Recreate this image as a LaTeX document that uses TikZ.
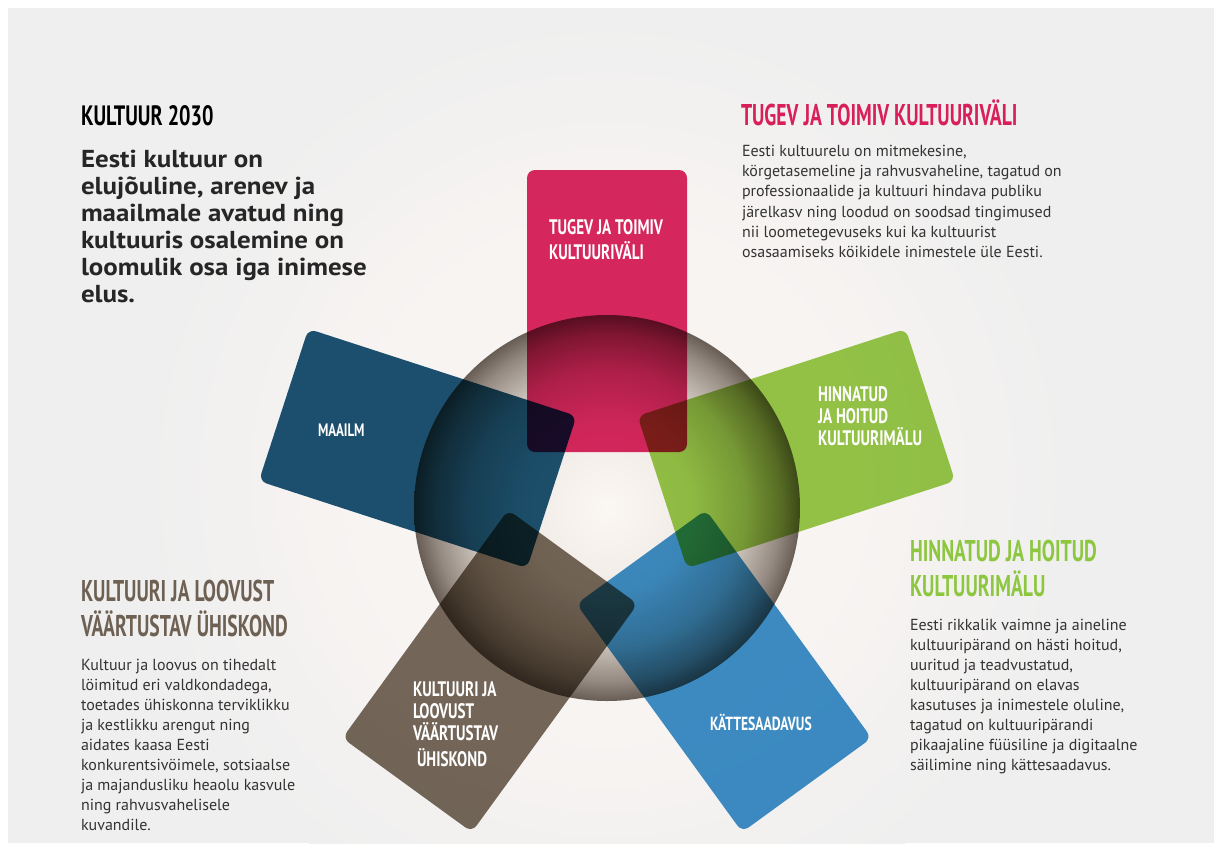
\documentclass[tikz,border=0pt]{standalone}
\usepackage{fontspec}
\setmainfont{PT Sans}
\newfontfamily\bebas[FakeStretch=0.72]{PT Sans}
\newfontfamily\bebash[FakeStretch=0.655]{PT Sans}
\newfontfamily\leadfont[FakeStretch=1.1]{PT Sans}
\definecolor{panelc}{HTML}{EFEFEF}
\definecolor{glowin}{HTML}{F8F4F2}
\definecolor{sph0}{HTML}{FBF7F4}
\definecolor{sph1}{HTML}{F0EBE6}
\definecolor{sph2}{HTML}{C8C0B8}
\definecolor{sph3}{HTML}{948980}
\definecolor{sph4}{HTML}{675D54}
\definecolor{cpink}{HTML}{DB1F5C}
\definecolor{cdblue}{HTML}{124B6D}
\definecolor{cgreen}{HTML}{92C841}
\definecolor{cbrown}{HTML}{706354}
\definecolor{clblue}{HTML}{358CCA}
\definecolor{tpink}{HTML}{D81F5A}
\definecolor{tgreen}{HTML}{8DC63F}
\definecolor{tbrown}{HTML}{6E6154}
\definecolor{tbody}{HTML}{333333}
\pgfdeclareradialshading{glowsh}{\pgfpoint{0bp}{0bp}}{color(0bp)=(glowin); color(13bp)=(glowin); color(25bp)=(panelc); color(50bp)=(panelc)}
\pgfdeclareradialshading{spheresh}{\pgfpoint{0bp}{0bp}}{color(0bp)=(sph0); color(11bp)=(sph1); color(18bp)=(sph2); color(22.5bp)=(sph3); color(25bp)=(sph4); color(50bp)=(sph4)}
\newcommand\plines[2]{\parbox[t]{#1}{\raggedright #2}}
\tikzset{
  card/.style={rectangle, rounded corners=8pt, minimum width=160pt, minimum height=282pt, inner sep=0pt, draw=none},
  txt/.style={anchor=base west, inner sep=0pt, outer sep=0pt},
  bigcap/.style={txt, font=\bebash\bfseries\fontsize{30}{35}\selectfont},
  boxlab/.style={txt, text=white, font=\bebas\bfseries\fontsize{21}{22}\selectfont},
  body/.style={txt, text=tbody, font=\fontsize{16}{20.1}\selectfont},
}
\begin{document}
\begin{tikzpicture}[x=1pt,y=-1pt]
\useasboundingbox (0,0) rectangle (1214,843);
\fill[white] (0,0) rectangle (1214,843);
\fill[panelc] (8,8) rectangle (1214,843);
\begin{scope}
\clip (8,8) rectangle (1214,843);
\shade[shading=glowsh] (607,480) circle (470);
\end{scope}
% sphere
\shade[shading=spheresh] (607,508) circle (193);
% cards
\begin{scope}[blend mode=multiply, fill opacity=0.95]
\node[card, fill=cpink] (pinkcard) at (607,311) {};
\node[card, fill=cdblue, rotate=72] (dbluecard) at (417.7,448.5) {};
\node[card, fill=cbrown, rotate=144] (browncard) at (490,671) {};
\node[card, fill=clblue, rotate=-144] (lbluecard) at (724,671) {};
\node[card, fill=cgreen, rotate=-72] (greencard) at (796.3,448.5) {};
\end{scope}
% card labels
\node[boxlab] (l1) at (549,234) {\plines{200pt}{TUGEV JA TOIMIV\\[3pt]KULTUURIVÄLI}};
\node[boxlab, font=\bebas\bfseries\fontsize{18}{20}\selectfont] (l2) at (318,436) {MAAILM};
\node[boxlab] (l3) at (818,401.7) {\plines{200pt}{HINNATUD\\JA HOITUD\\KULTUURIMÄLU}};
\node[boxlab] (l4) at (413,696.7) {\plines{200pt}{KULTUURI JA\\LOOVUST\\VÄÄRTUSTAV\\[4pt]\hspace*{4pt}ÜHISKOND}};
\node[boxlab, font=\bebas\bfseries\fontsize{19}{20}\selectfont] (l5) at (710,730) {KÄTTESAADAVUS};
% left top
\node[txt, font=\bebas\bfseries\fontsize{28}{28}\selectfont, text=black] (title) at (81,125) {KULTUUR 2030};
\node[txt, font=\leadfont\bfseries\fontsize{24.5}{27}\selectfont, text=black!85] (lead) at (81,167) {\plines{400pt}{Eesti kultuur on\\elujõuline, arenev ja\\maailmale avatud ning\\kultuuris osalemine on\\loomulik osa iga inimese\\elus.}};
% right top
\node[bigcap, text=tpink] (h1) at (741,125) {TUGEV JA TOIMIV KULTUURIVÄLI};
\node[body] (b1) at (742,156.7) {\plines{420pt}{Eesti kultuurelu on mitmekesine,\\körgetasemeline ja rahvusvaheline, tagatud on\\professionaalide ja kultuuri hindava publiku\\järelkasv ning loodud on soodsad tingimused\\nii loometegevuseks kui ka kultuurist\\osasaamiseks köikidele inimestele üle Eesti.}};
% right bottom
\node[bigcap, text=tgreen] (h2) at (910,561.7) {\plines{300pt}{HINNATUD JA HOITUD\\KULTUURIMÄLU}};
\node[body] (b2) at (910,630) {\plines{300pt}{Eesti rikkalik vaimne ja aineline\\kultuuripärand on hästi hoitud,\\uuritud ja teadvustatud,\\kultuuripärand on elavas\\kasutuses ja inimestele oluline,\\tagatud on kultuuripärandi\\pikaajaline füüsiline ja digitaalne\\säilimine ning kättesaadavus.}};
% left bottom
\node[bigcap, text=tbrown] (h3) at (81,601.7) {\plines{300pt}{KULTUURI JA LOOVUST\\VÄÄRTUSTAV ÜHISKOND}};
\node[body] (b3) at (81,670) {\plines{300pt}{Kultuur ja loovus on tihedalt\\löimitud eri valdkondadega,\\toetades ühiskonna terviklikku\\ja kestlikku arengut ning\\aidates kaasa Eesti\\konkurentsivöimele, sotsiaalse\\ja majandusliku heaolu kasvule\\ning rahvusvahelisele\\kuvandile.}};
\end{tikzpicture}
\end{document}
